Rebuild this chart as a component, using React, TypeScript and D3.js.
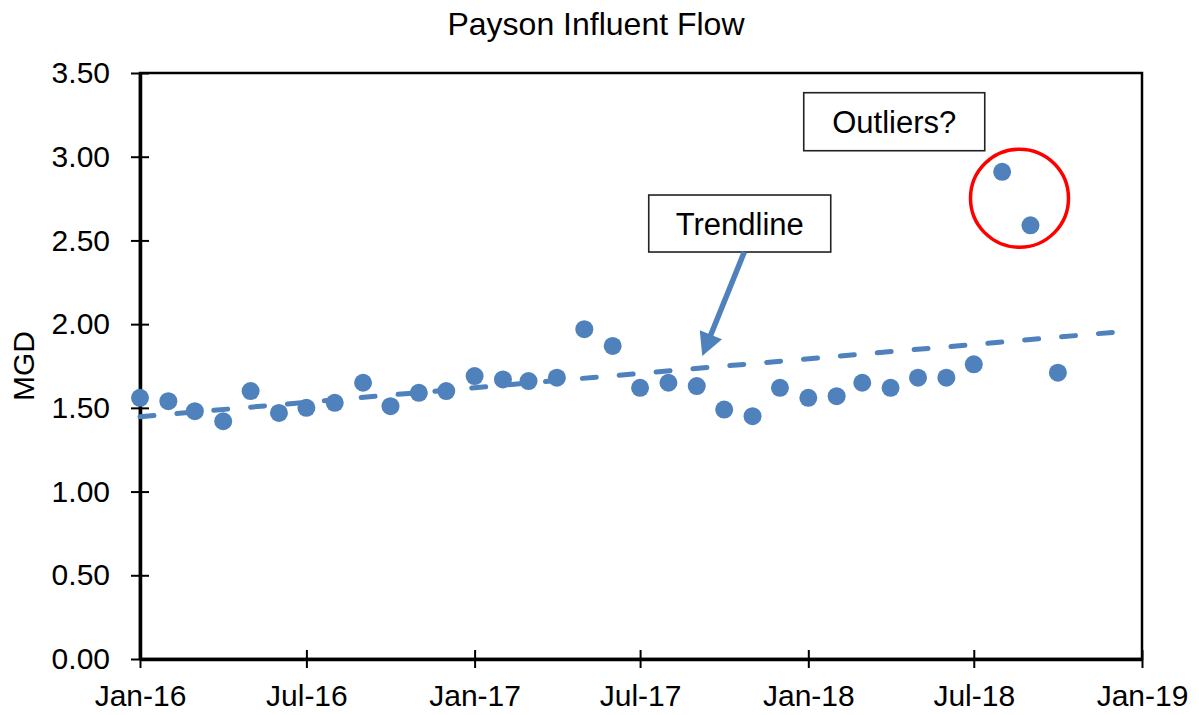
import React, { useEffect, useRef } from "react";
import * as d3 from "d3";

// monthly influent flow, MGD
const months = [
  "2016-01", "2016-02", "2016-03", "2016-04", "2016-05", "2016-06",
  "2016-07", "2016-08", "2016-09", "2016-10", "2016-11", "2016-12",
  "2017-01", "2017-02", "2017-03", "2017-04", "2017-05", "2017-06",
  "2017-07", "2017-08", "2017-09", "2017-10", "2017-11", "2017-12",
  "2018-01", "2018-02", "2018-03", "2018-04", "2018-05", "2018-06",
  "2018-07", "2018-08", "2018-09", "2018-10",
];
const flows = [
  1.56, 1.54, 1.48, 1.42, 1.60, 1.47,
  1.50, 1.53, 1.65, 1.51, 1.59, 1.60,
  1.69, 1.67, 1.66, 1.68, 1.97, 1.87,
  1.62, 1.65, 1.63, 1.49, 1.45, 1.62,
  1.56, 1.57, 1.65, 1.62, 1.68, 1.68,
  1.76, 2.91, 2.59, 1.71,
];

// linear trendline end points (date, MGD)
const trendDates = ["2016-01-01", "2018-12-09"];
const trendValues = [1.447, 1.955];

const xTickDates = ["2016-01-01", "2016-07-01", "2017-01-01", "2017-07-01", "2018-01-01", "2018-07-01", "2019-01-01"];
const yTicks = [0, 0.5, 1, 1.5, 2, 2.5, 3, 3.5];

const parseDay = d3.timeParse("%Y-%m-%d");
const parseMonth = d3.timeParse("%Y-%m");

const W = 1199;
const H = 715;
const FONT = "Arial, 'Liberation Sans', sans-serif";
const BLUE = "#4f81bd";

const App = () => {
  const ref = useRef<SVGSVGElement>(null);

  useEffect(() => {
    const margin = { top: 73, right: 57, bottom: 56, left: 140 };
    const svg = d3.select(ref.current);
    svg.selectAll("*").remove();

    const x = d3
      .scaleTime()
      .domain([parseDay("2016-01-01")!, parseDay("2019-01-01")!])
      .range([margin.left, W - margin.right]);

    const y = d3
      .scaleLinear()
      .domain([0, 3.5])
      .range([H - margin.bottom, margin.top]);

    // title
    svg
      .append("text")
      .attr("x", 596)
      .attr("y", 35)
      .attr("text-anchor", "middle")
      .attr("font-size", 32)
      .text("Payson Influent Flow");

    // plot area border
    svg
      .append("rect")
      .attr("x", margin.left)
      .attr("y", margin.top)
      .attr("width", W - margin.left - margin.right)
      .attr("height", H - margin.top - margin.bottom)
      .attr("fill", "none")
      .attr("stroke", "#000")
      .attr("stroke-width", 2.5);

    // y axis
    const yAxis = svg
      .append("g")
      .attr("transform", `translate(${margin.left},0)`)
      .call(
        d3
          .axisLeft(y)
          .tickValues(yTicks)
          .tickFormat(d3.format(".2f"))
          .tickSize(9)
          .tickSizeOuter(0)
          .tickPadding(21)
      );
    yAxis.selectAll(".tick line").attr("x1", -9).attr("x2", 9).attr("stroke-width", 2);
    yAxis.select(".domain").attr("stroke-width", 3.5);

    // x axis
    const xAxis = svg
      .append("g")
      .attr("transform", `translate(0,${H - margin.bottom})`)
      .call(
        d3
          .axisBottom(x)
          .tickValues(xTickDates.map((d) => parseDay(d)!))
          .tickFormat(d3.timeFormat("%b-%y") as any)
          .tickSize(9)
          .tickSizeOuter(0)
          .tickPadding(17)
      );
    xAxis.selectAll(".tick line").attr("y1", -9).attr("y2", 9).attr("stroke-width", 2);
    xAxis.select(".domain").attr("stroke-width", 3.5);

    svg
      .selectAll(".tick text")
      .attr("font-size", 30)
      .attr("font-family", FONT)
      .attr("fill", "#000");

    // y axis title
    svg
      .append("text")
      .attr("transform", `translate(34,${(margin.top + H - margin.bottom) / 2}) rotate(-90)`)
      .attr("text-anchor", "middle")
      .attr("font-size", 30)
      .text("MGD");

    // trendline
    const trend = trendDates.map((d, i) => ({ date: parseDay(d)!, value: trendValues[i] }));
    svg
      .append("path")
      .datum(trend)
      .attr(
        "d",
        d3
          .line<{ date: Date; value: number }>()
          .x((d) => x(d.date))
          .y((d) => y(d.value))
      )
      .attr("fill", "none")
      .attr("stroke", BLUE)
      .attr("stroke-width", 5)
      .attr("stroke-linecap", "round")
      .attr("stroke-dasharray", "14 23");

    // data points
    const data = months.map((m, i) => ({ date: parseMonth(m)!, value: flows[i] }));
    svg
      .append("g")
      .selectAll("circle")
      .data(data)
      .enter()
      .append("circle")
      .attr("cx", (d) => x(d.date))
      .attr("cy", (d) => y(d.value))
      .attr("r", 9)
      .attr("fill", BLUE);

    // annotation boxes
    const boxes = [
      { label: "Trendline", date: "2017-10-18", value: 2.601, w: 182, h: 57 },
      { label: "Outliers?", date: "2018-04-05", value: 3.209, w: 181, h: 58 },
    ];
    boxes.forEach((b) => {
      const cx = x(parseDay(b.date)!);
      const cy = y(b.value);
      svg
        .append("rect")
        .attr("x", cx - b.w / 2)
        .attr("y", cy - b.h / 2)
        .attr("width", b.w)
        .attr("height", b.h)
        .attr("fill", "#fff")
        .attr("stroke", "#222")
        .attr("stroke-width", 1.6);
      svg
        .append("text")
        .attr("x", cx)
        .attr("y", cy + 11)
        .attr("text-anchor", "middle")
        .attr("font-size", 31)
        .text(b.label);
    });

    // arrow pointing at the trendline
    const tail: [number, number] = [x(parseDay("2017-10-23")!), y(2.431)];
    const tip: [number, number] = [x(parseDay("2017-09-07")!), y(1.81)];
    const dx = tip[0] - tail[0];
    const dy = tip[1] - tail[1];
    const len = Math.hypot(dx, dy);
    const ux = dx / len;
    const uy = dy / len;
    const headLen = 23;
    const headHalf = 12;
    const base = [tip[0] - ux * headLen, tip[1] - uy * headLen];
    svg
      .append("line")
      .attr("x1", tail[0])
      .attr("y1", tail[1])
      .attr("x2", base[0] + ux * 2)
      .attr("y2", base[1] + uy * 2)
      .attr("stroke", BLUE)
      .attr("stroke-width", 5.5);
    svg
      .append("polygon")
      .attr(
        "points",
        [
          tip,
          [base[0] - uy * headHalf, base[1] + ux * headHalf],
          [base[0] + uy * headHalf, base[1] - ux * headHalf],
        ]
          .map((p) => p.join(","))
          .join(" ")
      )
      .attr("fill", BLUE);

    // circle around the outliers
    svg
      .append("circle")
      .attr("cx", x(parseDay("2018-08-20")!))
      .attr("cy", y(2.752))
      .attr("r", 49)
      .attr("fill", "none")
      .attr("stroke", "#ff0000")
      .attr("stroke-width", 3.5);
  }, []);

  return (
    <>
      <style>{"body{margin:0}"}</style>
      <svg
        ref={ref}
        width={W}
        height={H}
        style={{ display: "block", background: "#fff", fontFamily: FONT }}
      />
    </>
  );
};

export default App;
